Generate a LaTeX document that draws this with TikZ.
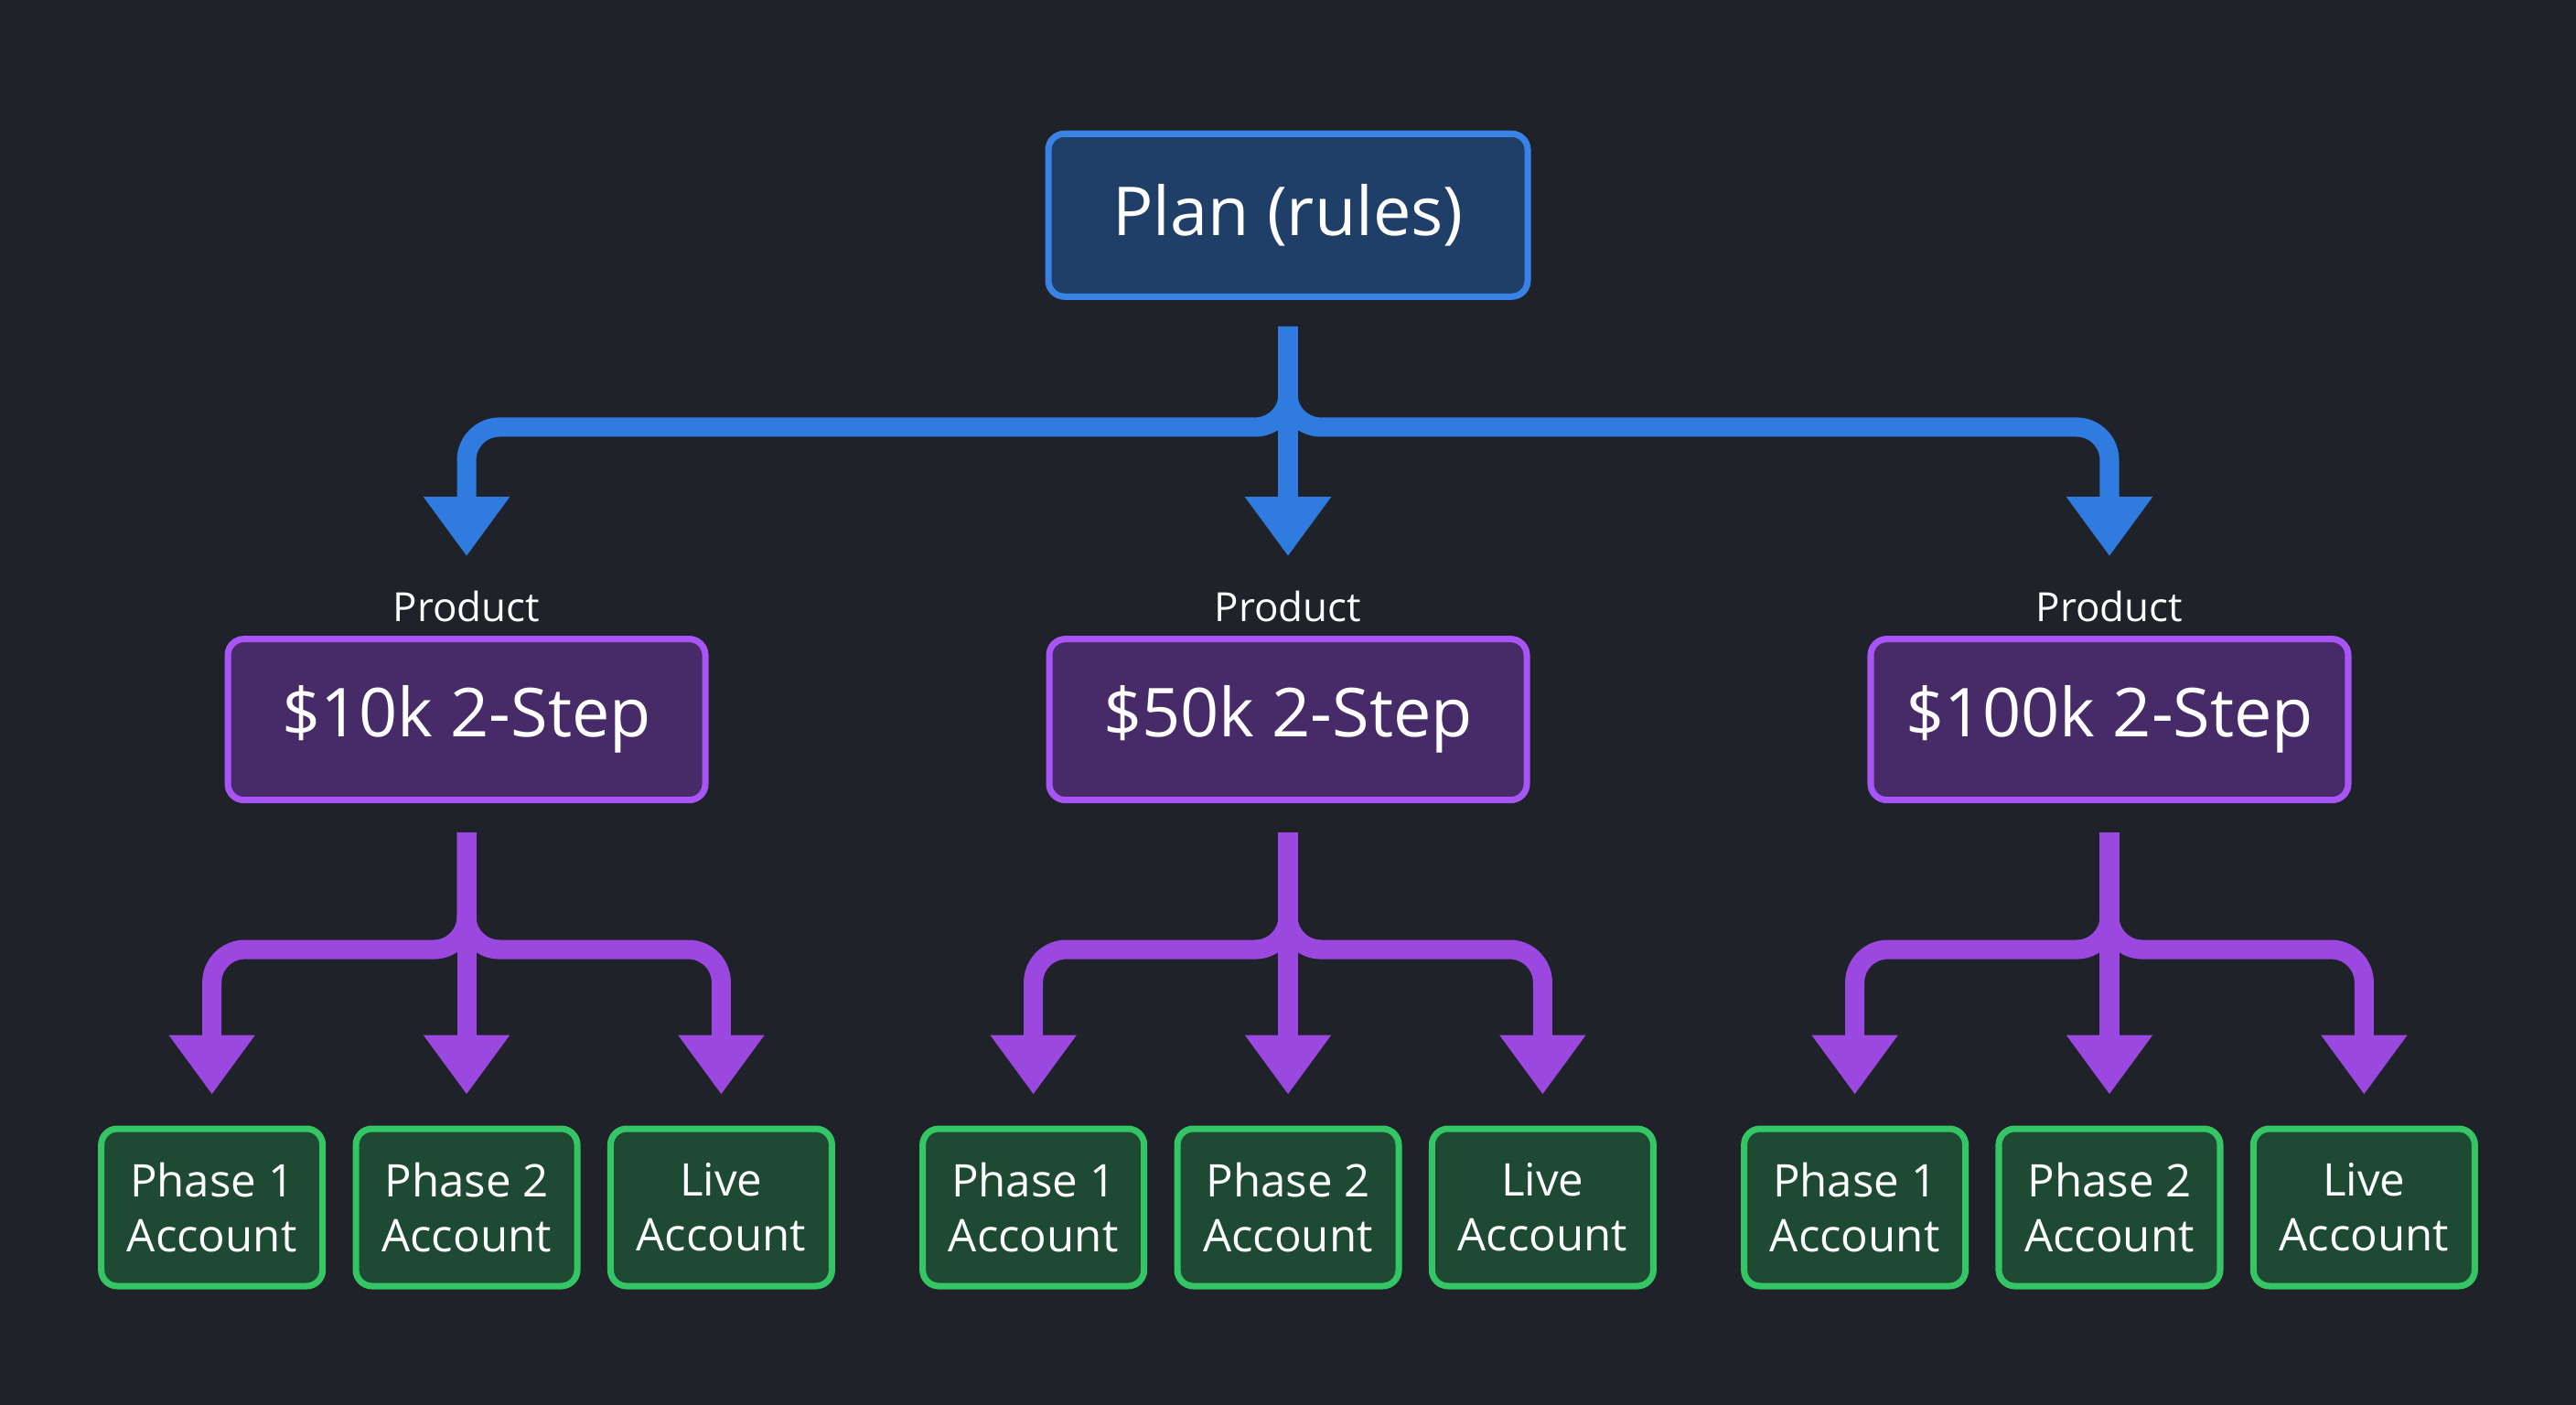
\documentclass[tikz,border=0pt]{standalone}
\usepackage{fontspec}
\setmainfont{Open Sans}
\usetikzlibrary{arrows.meta}
\definecolor{bgdark}{HTML}{1F2228}
\definecolor{planfill}{HTML}{1F3F68}
\definecolor{planline}{HTML}{3B82E6}
\definecolor{prodfill}{HTML}{472B68}
\definecolor{prodline}{HTML}{A855F7}
\definecolor{accfill}{HTML}{1E4A34}
\definecolor{accline}{HTML}{34C565}
\definecolor{bluearrow}{HTML}{2F7BE0}
\definecolor{purplearrow}{HTML}{9B48E0}
\tikzset{
  planbox/.style={draw=planline, fill=planfill, line width=2pt, rounded corners=5pt,
    minimum width=5.24cm, minimum height=1.78cm, text=white, font=\fontsize{21}{25}\selectfont},
  prodbox/.style={draw=prodline, fill=prodfill, line width=2pt, rounded corners=5pt,
    minimum width=5.22cm, minimum height=1.76cm, text=white, font=\fontsize{21}{25}\selectfont},
  accbox/.style={draw=accline, fill=accfill, line width=2pt, rounded corners=5pt,
    minimum width=2.42cm, minimum height=1.72cm, text=white, align=center,
    font=\fontsize{14}{17}\selectfont},
  prodlabel/.style={text=white!90, font=\fontsize{12.5}{15}\selectfont, inner sep=2pt},
  treearrow/.style={line width=6pt, rounded corners=0.36cm,
    -{Triangle[width=0.9cm,length=0.65cm]}},
}
\begin{document}
\begin{tikzpicture}[x=0.01796cm, y=-0.01796cm]
  \fill[bgdark] (0,0) rectangle (1568,855);
  \useasboundingbox (0,0) rectangle (1568,855);

  \node[planbox] (plan) at (784,131) {Plan (rules)};
  \coordinate (planj) at (784,260);

  \foreach \p/\x/\t in {a/284/\$10k 2-Step, b/784/\$50k 2-Step, c/1284/\$100k 2-Step}{
    \node[prodlabel] (lbl\p) at (\x,369) {Product};
    \node[prodbox] (prod\p) at (\x,438) {\t};
    \draw[treearrow, bluearrow, shorten <=0.29cm, shorten >=0.3cm]
      (plan.south) -- (planj) -| (lbl\p.north);
    \coordinate (prodj\p) at (\x,578);
    \foreach \q/\dx/\s in {1/-155/Phase 1\\Account, 2/0/Phase 2\\Account, 3/155/Live\\Account}{
      \node[accbox] (acc\p\q) at ({\x+\dx},735) {\s};
      \draw[treearrow, purplearrow, shorten <=0.32cm, shorten >=0.34cm]
        (prod\p.south) -- (prodj\p) -| (acc\p\q.north);
    }
  }
\end{tikzpicture}
\end{document}
